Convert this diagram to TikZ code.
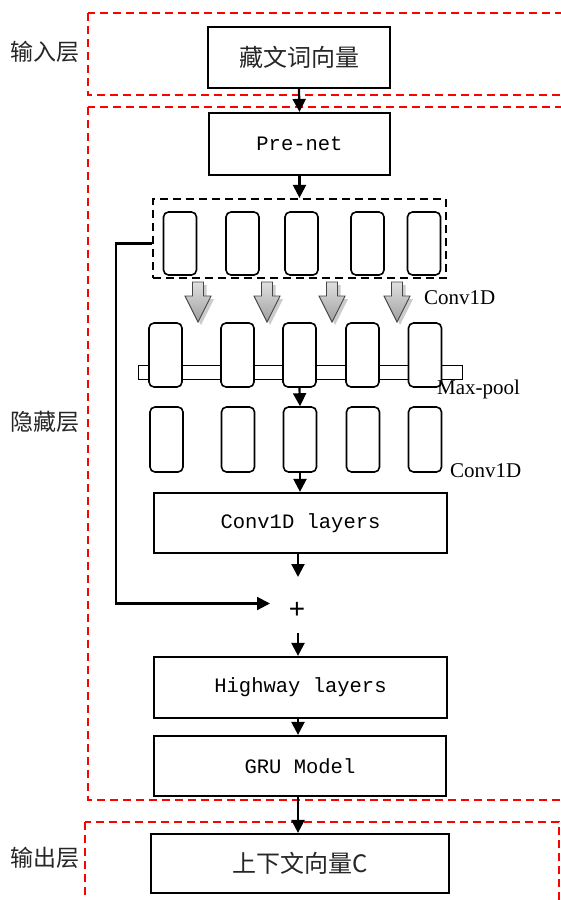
\documentclass[tikz,border=0pt]{standalone}
\usepackage{fontspec}
\setmainfont{Liberation Serif}
\setmonofont{Liberation Mono}
\newfontfamily\cjk{Noto Sans CJK SC}
\usetikzlibrary{arrows.meta}
\tikzset{
  box/.style={draw, line width=2.2pt, inner sep=0pt, font=\fontsize{20.5}{22}\selectfont\ttfamily},
  cjkbox/.style={draw, line width=2.2pt, inner sep=0pt, font=\fontsize{24}{26}\selectfont\cjk, text=black!85},
  cell/.style={draw, line width=1.6pt, rounded corners=5pt, fill=white, minimum width=33pt, inner sep=0pt},
  arr/.style={line width=2.2pt, -{Triangle[length=13pt,width=13pt]}},
  reddash/.style={draw=red, line width=1.6pt, dash pattern=on 8pt off 5pt},
  blackdash/.style={draw, line width=2.2pt, dash pattern=on 8pt off 5pt, inner sep=0pt},
  sidelabel/.style={font=\fontsize{23}{24}\selectfont\cjk, text=black!85},
  annot/.style={font=\fontsize{21}{22}\selectfont, anchor=west, inner sep=0pt},
}
\begin{document}
\begin{tikzpicture}[x=1pt,y=-1pt]
\clip (0,0) rectangle (561,900);
\fill[white] (0,0) rectangle (561,900);

% layer frames
\draw[reddash] (88,13) rectangle (575,95);
\draw[reddash] (88,107) rectangle (575,800);
\draw[reddash] (85,822) rectangle (559,910);

\node[sidelabel] (lin) at (45,52) {输入层};
\node[sidelabel] (lhid) at (45,422) {隐藏层};
\node[sidelabel] (lout) at (45,858) {输出层};

% main boxes
\node[cjkbox, minimum width=182pt, minimum height=61pt] (in) at (299,57.5) {藏文词向量\hspace{18pt}};
\node[box, minimum width=181pt, minimum height=62pt] (pre) at (299.5,144) {Pre-net};
\node[blackdash, minimum width=293pt, minimum height=79pt] (dbox) at (299.5,238.5) {};

% row 1 cells
\foreach \n/\x in {a/180, b/242.5, c/301.5, d/367.5, e/424}
  \node[cell, minimum height=63pt] (r1\n) at (\x,243.5) {};

% gray block arrows
\foreach \x in {198,267,332,397}{
  \fill[gray!40, xshift=3pt, yshift=-3pt]
    (\x-5.5,282) -- (\x+5.5,282) -- (\x+5.5,296) -- (\x+13,296) -- (\x,322) -- (\x-13,296) -- (\x-5.5,296) -- cycle;
  \draw[draw=gray!55!black, line width=0.9pt, top color=gray!25, bottom color=gray!75]
    (\x-5.5,282) -- (\x+5.5,282) -- (\x+5.5,296) -- (\x+13,296) -- (\x,322) -- (\x-13,296) -- (\x-5.5,296) -- cycle;
}
\node[annot] (lc1) at (424,298) {Conv1D};

% max-pool bar and row 2
\draw[line width=1pt, fill=white] (138,365) rectangle (462,379);
\foreach \n/\x in {a/165.5, b/237.5, c/299.5, d/362.5, e/425}
  \node[cell, minimum height=64pt] (r2\n) at (\x,355) {};
\node[annot] (lmp) at (437,389) {Max-pool};

% row 3
\foreach \n/\x in {a/166.5, b/238, c/300, d/363, e/425}
  \node[cell, minimum height=65pt] (r3\n) at (\x,439.5) {};
\node[annot] (lc2) at (450,471) {Conv1D};

\node[box, minimum width=293pt, minimum height=60pt] (conv) at (300.5,523) {Conv1D layers};
\node[font=\fontsize{28}{28}\selectfont\ttfamily, inner sep=0pt] (plus) at (297,610) {+};
\node[box, minimum width=293pt, minimum height=61pt] (hw) at (300.5,687.5) {Highway layers};
\node[box, minimum width=292pt, minimum height=60pt] (gru) at (300,766) {GRU Model};
\node[cjkbox, minimum width=298pt, minimum height=59pt] (out) at (300,863.5) {上下文向量C};

\coordinate (pin) at (298,577);
\coordinate (pout) at (298,633);
\coordinate (skipend) at (270,603.5);

% connectors
\draw[arr] (in.south) -- (pre.north);
\draw[arr] (pre.south) -- (pre.south |- dbox.north);
\draw[arr] (r2c.south) -- (r3c.north);
\draw[arr] (r3c.south) -- (r3c.south |- conv.north);
\draw[arr] (conv.south -| pin) -- (pin);
\draw[arr] (pout) -- (pout |- hw.north);
\draw[arr] (hw.south -| pin) -- (pin |- gru.north);
\draw[arr] (gru.south -| pin) -- (pin |- out.north);
\draw[arr] (dbox.west |- r1a.west) -- (116,243.5) -- (116,603.5) -- (skipend);
\end{tikzpicture}
\end{document}
